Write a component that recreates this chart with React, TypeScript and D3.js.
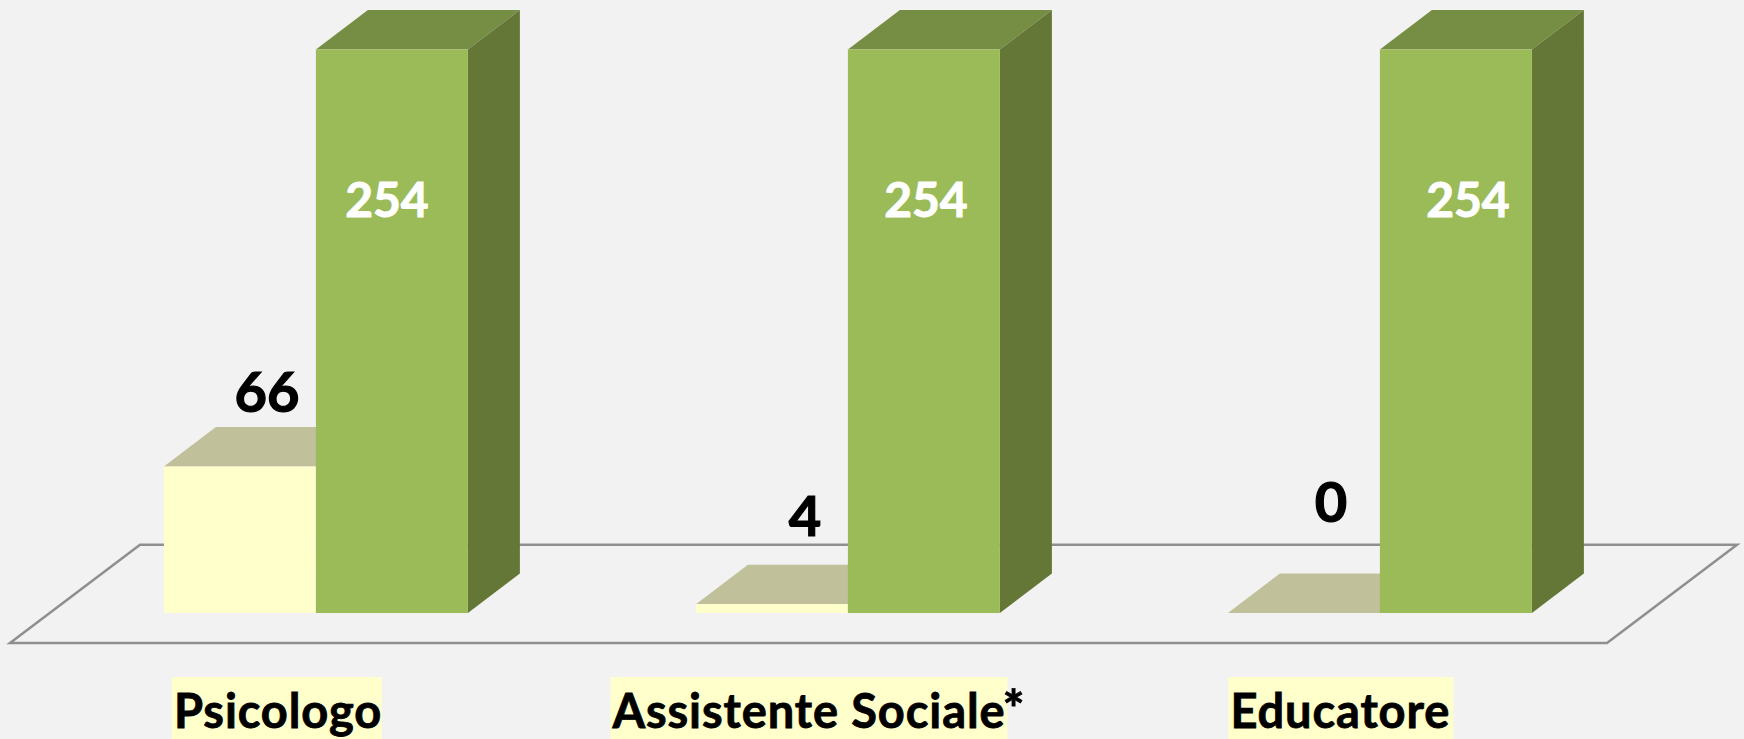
import * as d3 from 'd3'

const categories = ['Psicologo', 'Assistente Sociale', 'Educatore']
const suffixes = ['', '*', '']
const seriesNames = ['yellow', 'green']
const yellowValues = [66, 4, 0]
const greenValues = [254, 254, 254]

const W = 1744
const H = 739
const FONT = 'Lato, Carlito, sans-serif'

const COLORS: Record<string, { front: string; top: string; side: string }> = {
  yellow: { front: '#ffffcc', top: '#c0c09a', side: '#bfbf99' },
  green: { front: '#9bbb59', top: '#768e44', side: '#657736' },
}

// bar depth (oblique projection)
const DX = 52
const DY = 39.5

// the value labels were placed by hand in the original
const yellowLabelDx = [27, 33, 27]
const yellowLabelDy = [-55, -68, -91]
const greenLabelDx = [-5, 2, 12]

const x0 = d3.scaleBand<string>()
  .domain(categories)
  .range([10, 1606])
  .paddingInner(0.4286)
  .paddingOuter(0.2143)
  .align(0.675)

const x1 = d3.scaleBand<string>()
  .domain(seriesNames)
  .range([0, x0.bandwidth()])

const y = d3.scaleLinear().domain([0, 254]).range([613, 49.5])

const poly = d3.line()

function Bar({ x, value, series }: { x: number; value: number; series: string }) {
  const w = x1.bandwidth()
  const top = y(value)
  const base = y(0)
  const c = COLORS[series]
  return (
    <g>
      <path
        d={poly([[x, top], [x + DX, top - DY], [x + w + DX, top - DY], [x + w, top]]) + 'Z'}
        fill={c.top}
      />
      <path
        d={poly([[x + w, top], [x + w + DX, top - DY], [x + w + DX, base - DY], [x + w, base]]) + 'Z'}
        fill={c.side}
      />
      {value > 0 && <rect x={x} y={top} width={w} height={base - top} fill={c.front} />}
    </g>
  )
}

export default function App() {
  const floorFront = y(0) + 30
  const floorBack = y(0) - 68.3

  return (
    <svg
      width={W}
      height={H}
      style={{ position: 'absolute', left: 0, top: 0, display: 'block', background: '#f2f2f2' }}
      fontFamily={FONT}
      fontWeight={700}
    >
      <path
        d={poly([[10, floorFront], [140, floorBack], [1737, floorBack], [1607, floorFront]]) + 'Z'}
        fill="none"
        stroke="#8f8f8f"
        strokeWidth={2.5}
      />

      {categories.map((cat, i) => {
        const gx = x0(cat)!
        const xa = gx + x1('yellow')!
        const xb = gx + x1('green')!
        const cx = xb - 39
        const bgW = [210, 397, 225][i]
        return (
          <g key={cat}>
            <Bar x={xa} value={yellowValues[i]} series="yellow" />
            <Bar x={xb} value={greenValues[i]} series="green" />

            <text
              x={xa + x1.bandwidth() / 2 + yellowLabelDx[i]}
              y={y(yellowValues[i]) + yellowLabelDy[i]}
              textAnchor="middle"
              fontSize={56}
              fill="#000"
              stroke="#000"
              strokeWidth={1.2}
            >
              {yellowValues[i]}
            </text>
            <text
              x={xb + x1.bandwidth() / 2 + greenLabelDx[i]}
              y={217}
              textAnchor="middle"
              fontSize={48}
              fill="#fff"
              stroke="#fff"
              strokeWidth={1}
            >
              {greenValues[i]}
            </text>

            <rect x={cx - bgW / 2} y={677} width={bgW} height={62} fill="#ffffcc" />
            <text
              x={cx - bgW / 2 + 2}
              y={728}
              fontSize={47}
              letterSpacing={0.9}
              fill="#000"
              stroke="#000"
              strokeWidth={0.8}
            >
              {cat}
              {suffixes[i] && <tspan fontSize={52} dx={-3}>{suffixes[i]}</tspan>}
            </text>
          </g>
        )
      })}
    </svg>
  )
}
